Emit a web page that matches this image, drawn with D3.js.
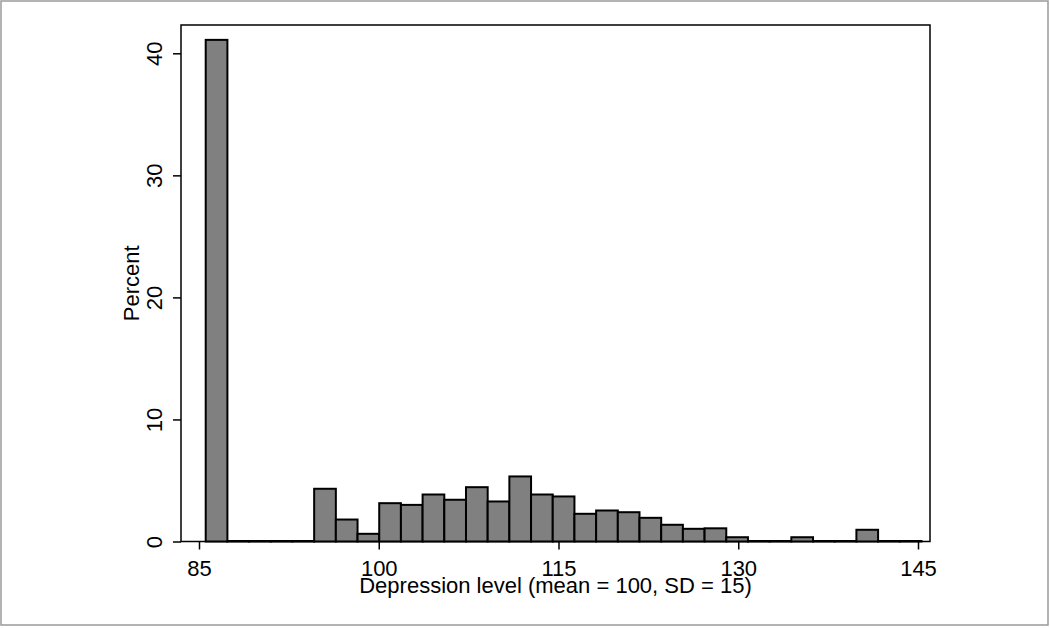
<!DOCTYPE html>
<html>
<head>
<meta charset="utf-8">
<script src="https://cdn.jsdelivr.net/npm/d3@7"></script>
<style>
  body { margin: 0; background: #fff; }
  svg { display: block; }
  text { font-family: "Liberation Sans", Arial, sans-serif; font-size: 22px; fill: #000; }
</style>
</head>
<body>
<svg></svg>
<script>
var width = 1050,
    height = 628

// histogram: first bin edge, bin width and percent per bin
var binStart = 85.56
var binWidth = 1.81
var percents = [41.1, 0, 0, 0, 0, 4.32, 1.8, 0.63, 3.14, 3.0,
    3.85, 3.42, 4.45, 3.28, 5.33, 3.85, 3.69, 2.27, 2.54, 2.4,
    1.94, 1.37, 1.04, 1.08, 0.35, 0, 0, 0.35, 0, 0,
    0.96, 0, 0]

var xTicks = [85, 100, 115, 130, 145]
var yTicks = [0, 10, 20, 30, 40]
var xTitle = "Depression level (mean = 100, SD = 15)"
var yTitle = "Percent"

var frame = { left: 181, right: 930, top: 25, bottom: 541.5 }

var xScale = d3.scaleLinear().domain([85, 145]).range([199, 918])
var yScale = d3.scaleLinear().domain([0, 40]).range([frame.bottom, 53.3])

var canvas = d3.select("svg")
    .attr("width", width)
    .attr("height", height)

// outer border
canvas.append("rect")
    .attr("x", 1).attr("y", 1)
    .attr("width", width - 3).attr("height", height - 4)
    .attr("fill", "#fff")
    .attr("stroke", "#9a9a9a")
    .attr("stroke-width", 1.5)

// plot frame
canvas.append("rect")
    .attr("x", frame.left).attr("y", frame.top)
    .attr("width", frame.right - frame.left)
    .attr("height", frame.bottom - frame.top)
    .attr("fill", "#fff")
    .attr("stroke", "#000")
    .attr("stroke-width", 1.5)

var bins = percents.map(function(p, i) {
    return { x0: binStart + i * binWidth, x1: binStart + (i + 1) * binWidth, value: p }
})

// empty bins still get their outline drawn, which thickens the baseline
canvas.append("g")
    .selectAll("rect")
    .data(bins)
    .enter()
    .append("rect")
    .attr("x", function(d) { return xScale(d.x0) })
    .attr("width", function(d) { return xScale(d.x1) - xScale(d.x0) })
    .attr("y", function(d) { return yScale(d.value) - (d.value ? 0 : 0.5) })
    .attr("height", function(d) { return Math.max(yScale(0) - yScale(d.value), 0.5) })
    .attr("fill", "#808080")
    .attr("stroke", "#000")
    .attr("stroke-width", 2)

// y axis
var yAxis = canvas.append("g")
    .attr("transform", "translate(" + frame.left + ",0)")
    .call(d3.axisLeft(yScale).tickValues(yTicks).tickSize(8).tickFormat(d3.format("d")))
yAxis.select(".domain").remove()
yAxis.selectAll("line").attr("stroke", "#000").attr("stroke-width", 1.5)
yAxis.selectAll("text")
    .attr("x", null).attr("dy", null)
    .attr("text-anchor", "middle")
    .attr("transform", "translate(-19,0) rotate(-90)")
    .style("font-size", "22px")
    .attr("font-family", null)

// x axis
var xAxis = canvas.append("g")
    .attr("transform", "translate(0," + frame.bottom + ")")
    .call(d3.axisBottom(xScale).tickValues(xTicks).tickSize(8).tickFormat(d3.format("d")))
xAxis.select(".domain").remove()
xAxis.selectAll("line").attr("stroke", "#000").attr("stroke-width", 1.5)
xAxis.selectAll("text")
    .attr("y", 34).attr("dy", null)
    .style("font-size", "22px")
    .attr("font-family", null)

// titles
canvas.append("text")
    .attr("x", (frame.left + frame.right) / 2)
    .attr("y", 593)
    .attr("text-anchor", "middle")
    .text(xTitle)

canvas.append("text")
    .attr("transform", "translate(139," + (frame.top + frame.bottom) / 2 + ") rotate(-90)")
    .attr("text-anchor", "middle")
    .text(yTitle)
</script>
</body>
</html>
